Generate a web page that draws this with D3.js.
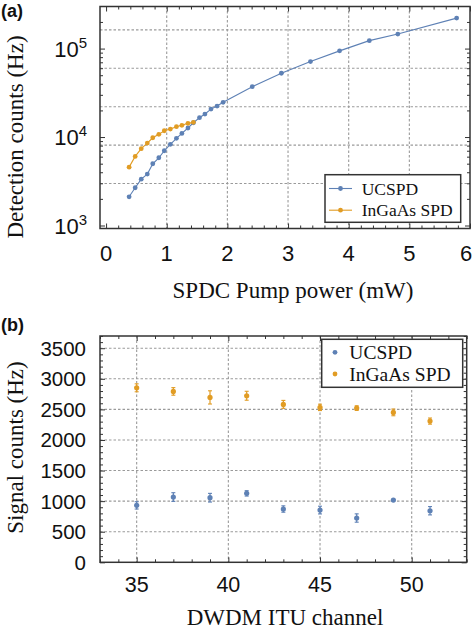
<!DOCTYPE html>
<html>
<head>
<meta charset="utf-8">
<script src="https://cdn.jsdelivr.net/npm/d3@7"></script>
<style>
  body { margin: 0; background: #fff; }
  svg { display: block; }
</style>
</head>
<body>
<svg id="chart" width="474" height="633"></svg>
<script>
// ---------- Data: panel (a) ----------
const powerUC = [0.38,0.48,0.58,0.68,0.77,0.87,0.96,1.06,1.16,1.25,1.35,1.44,1.54,1.63,1.73,1.83,1.93,2.41,2.89,3.37,3.85,4.34,4.81,5.78];
const countsUC = [2110,2670,3340,3810,4990,5830,7000,8270,9660,11000,12650,14500,16550,18200,20700,22400,24700,37100,52600,71300,94200,123000,146000,221000];
const powerIG = [0.38,0.48,0.58,0.68,0.77,0.87,0.96,1.06,1.16,1.25,1.35,1.44];
const countsIG = [4570,6040,7380,8550,9820,10730,11780,12320,13090,13580,14300,14660];
const xTicksA = [0,1,2,3,4,5,6];
const yTicksA = [1000,10000,100000];
const yTickExpA = ["3","4","5"];

// ---------- Data: panel (b) ----------
const channels = [35,37,39,41,43,45,47,49,51];
const signalUC = [931,1067,1056,1127,871,854,724,1018,843];
const errUC = [60,71,71,44,52,63,68,10,68];
const signalIG = [2853,2794,2696,2723,2582,2533,2521,2451,2309];
const errIG = [65,62,108,73,65,52,38,55,50];
const xTicksB = [35,40,45,50];
const yTicksB = [0,500,1000,1500,2000,2500,3000,3500];

const seriesNames = ["UCSPD","InGaAs SPD"];
const colors = ["#5e81b5","#e19c24"];

const svg = d3.select("#chart");
svg.append("rect").attr("width",474).attr("height",633).attr("fill","#fff");

const sansF = "'Liberation Sans', Arial, sans-serif";
const serifF = "'Liberation Serif', 'Times New Roman', serif";
const gridColor = "#9a9a9a";
const frameColor = "#333";

// ================= Panel (a) =================
const xA = d3.scaleLinear().domain([-0.1, 6.0]).range([100, 470]);
const yA = d3.scaleLog().domain([925, 2.99e5]).range([228.5, 6.5]);
const gA = svg.append("g");

// gridlines (Mathematica-style positions: e^8 .. e^12)
const gridYA = [8,9,10,11,12].map(k => Math.exp(k));
gA.selectAll(".gy").data(gridYA).enter().append("line")
  .attr("x1",100).attr("x2",470).attr("y1",d=>yA(d)).attr("y2",d=>yA(d))
  .attr("stroke",gridColor).attr("stroke-width",1.1).attr("stroke-dasharray","2.5,2");
gA.selectAll(".gx").data([1,2,3,4,5]).enter().append("line")
  .attr("y1",6.5).attr("y2",228.5).attr("x1",d=>xA(d)).attr("x2",d=>xA(d))
  .attr("stroke",gridColor).attr("stroke-width",1.1).attr("stroke-dasharray","2.5,2");

// ticks via axes (inward)
const minorXA = d3.range(0, 6.01, 0.2).filter(v => Math.abs(v - Math.round(v)) > 1e-6);
function addAxis(g, axis) { const a = g.append("g").call(axis); a.select(".domain").remove(); a.selectAll("text").remove(); a.selectAll("line").attr("stroke",frameColor).attr("stroke-width",1); return a; }
addAxis(gA.append("g").attr("transform","translate(0,228.5)"), d3.axisBottom(xA).tickValues(xTicksA).tickSize(-5));
addAxis(gA.append("g").attr("transform","translate(0,228.5)"), d3.axisBottom(xA).tickValues(minorXA).tickSize(-3));
addAxis(gA.append("g").attr("transform","translate(0,6.5)"), d3.axisTop(xA).tickValues(xTicksA).tickSize(-5));
addAxis(gA.append("g").attr("transform","translate(0,6.5)"), d3.axisTop(xA).tickValues(minorXA).tickSize(-3));
const minorYA = [];
[100,1000,10000,100000].forEach(b => { for (let m=2;m<=9;m++){ const v=b*m; if (v>925 && v<2.99e5) minorYA.push(v);} });
addAxis(gA.append("g").attr("transform","translate(100,0)"), d3.axisLeft(yA).tickValues(yTicksA).tickSize(-5));
addAxis(gA.append("g").attr("transform","translate(100,0)"), d3.axisLeft(yA).tickValues(minorYA).tickSize(-3));
addAxis(gA.append("g").attr("transform","translate(470,0)"), d3.axisRight(yA).tickValues(yTicksA).tickSize(-5));
addAxis(gA.append("g").attr("transform","translate(470,0)"), d3.axisRight(yA).tickValues(minorYA).tickSize(-3));

// frame
gA.append("rect").attr("x",100).attr("y",6.5).attr("width",370).attr("height",222)
  .attr("fill","none").attr("stroke",frameColor).attr("stroke-width",1.5);

// lines and points
const lineA = d3.line().x(d=>xA(d[0])).y(d=>yA(d[1]));
const dataUC = powerUC.map((p,i)=>[p,countsUC[i]]);
const dataIG = powerIG.map((p,i)=>[p,countsIG[i]]);
[[dataUC,colors[0]],[dataIG,colors[1]]].forEach(([data,c])=>{
  gA.append("path").datum(data).attr("d",lineA).attr("fill","none").attr("stroke",c).attr("stroke-width",1.1);
  gA.selectAll(null).data(data).enter().append("circle")
    .attr("cx",d=>xA(d[0])).attr("cy",d=>yA(d[1])).attr("r",2.4).attr("fill",c);
});

// tick labels (last label nudged inside the canvas edge)
gA.selectAll(".xl").data(xTicksA).enter().append("text")
  .attr("x",d=>Math.min(xA(d), 466)).attr("y",260.5).attr("text-anchor","middle")
  .attr("font-family",sansF).attr("font-size",22).attr("fill","#111").text(d=>d);
yTicksA.forEach((v,i)=>{
  const t = gA.append("text").attr("x",87).attr("y",yA(v)+8).attr("text-anchor","end")
    .attr("font-family",sansF).attr("font-size",22).attr("fill","#111");
  t.append("tspan").text("10");
  t.append("tspan").attr("dy",-9).attr("font-size",15).text(yTickExpA[i]);
});

// axis titles
svg.append("text").attr("x",293).attr("y",298).attr("text-anchor","middle")
  .attr("font-family",serifF).attr("font-size",23).attr("fill","#111").text("SPDC Pump power (mW)");
svg.append("text").attr("transform","translate(23,137) rotate(-90)").attr("text-anchor","middle")
  .attr("font-family",serifF).attr("font-size",23).attr("fill","#111").text("Detection counts (Hz)");
svg.append("text").attr("x",1).attr("y",17).attr("font-family",sansF).attr("font-weight","bold")
  .attr("font-size",18).attr("fill","#111").text("(a)");

// legend (a)
const legA = gA.append("g");
legA.append("rect").attr("x",325).attr("y",174.7).attr("width",135.7).attr("height",47.6)
  .attr("fill","#fff").attr("stroke",frameColor).attr("stroke-width",1.5);
seriesNames.forEach((n,i)=>{
  const cy = 188.5 + i*21.7;
  legA.append("line").attr("x1",329).attr("x2",352).attr("y1",cy).attr("y2",cy).attr("stroke",colors[i]).attr("stroke-width",1.1);
  legA.append("circle").attr("cx",340.5).attr("cy",cy).attr("r",2.4).attr("fill",colors[i]);
  legA.append("text").attr("x",361.7).attr("y",cy+6).attr("font-family",serifF).attr("font-size",17.5).attr("fill","#111").text(n);
});

// ================= Panel (b) =================
const xB = d3.scaleLinear().domain([33,53]).range([100,466.7]);
const yB = d3.scaleLinear().domain([0,3700]).range([562.3,336]);
const gB = svg.append("g");

gB.selectAll(".gy").data(yTicksB.filter(v=>v>0)).enter().append("line")
  .attr("x1",100).attr("x2",466.7).attr("y1",d=>yB(d)).attr("y2",d=>yB(d))
  .attr("stroke",gridColor).attr("stroke-width",1.1).attr("stroke-dasharray","2.5,2");
gB.selectAll(".gx").data(xTicksB).enter().append("line")
  .attr("y1",336).attr("y2",562.3).attr("x1",d=>xB(d)).attr("x2",d=>xB(d))
  .attr("stroke",gridColor).attr("stroke-width",1.1).attr("stroke-dasharray","2.5,2");

const minorXB = d3.range(33,54,1).filter(v=>v%5!==0);
const minorYB = d3.range(0,3701,100).filter(v=>v%500!==0);
addAxis(gB.append("g").attr("transform","translate(0,562.3)"), d3.axisBottom(xB).tickValues(xTicksB).tickSize(-5));
addAxis(gB.append("g").attr("transform","translate(0,562.3)"), d3.axisBottom(xB).tickValues(minorXB).tickSize(-3));
addAxis(gB.append("g").attr("transform","translate(0,336)"), d3.axisTop(xB).tickValues(xTicksB).tickSize(-5));
addAxis(gB.append("g").attr("transform","translate(0,336)"), d3.axisTop(xB).tickValues(minorXB).tickSize(-3));
addAxis(gB.append("g").attr("transform","translate(100,0)"), d3.axisLeft(yB).tickValues(yTicksB).tickSize(-5));
addAxis(gB.append("g").attr("transform","translate(100,0)"), d3.axisLeft(yB).tickValues(minorYB).tickSize(-3));
addAxis(gB.append("g").attr("transform","translate(466.7,0)"), d3.axisRight(yB).tickValues(yTicksB).tickSize(-5));
addAxis(gB.append("g").attr("transform","translate(466.7,0)"), d3.axisRight(yB).tickValues(minorYB).tickSize(-3));

gB.append("rect").attr("x",100).attr("y",336).attr("width",366.7).attr("height",226.3)
  .attr("fill","none").attr("stroke",frameColor).attr("stroke-width",1.5);

// error bars + points
[[signalUC,errUC,colors[0]],[signalIG,errIG,colors[1]]].forEach(([vals,errs,c])=>{
  const d = channels.map((ch,i)=>({x:ch,y:vals[i],e:errs[i]}));
  const g = gB.append("g");
  g.selectAll(null).data(d).enter().append("line")
    .attr("x1",p=>xB(p.x)).attr("x2",p=>xB(p.x)).attr("y1",p=>yB(p.y-p.e)).attr("y2",p=>yB(p.y+p.e))
    .attr("stroke",c).attr("stroke-width",1.2);
  ["-","+"].forEach(s=>{
    g.selectAll(null).data(d).enter().append("line")
      .attr("x1",p=>xB(p.x)-2).attr("x2",p=>xB(p.x)+2)
      .attr("y1",p=>yB(s==="-"?p.y-p.e:p.y+p.e)).attr("y2",p=>yB(s==="-"?p.y-p.e:p.y+p.e))
      .attr("stroke",c).attr("stroke-width",1.1);
  });
  g.selectAll(null).data(d).enter().append("circle")
    .attr("cx",p=>xB(p.x)).attr("cy",p=>yB(p.y)).attr("r",2.6).attr("fill",c);
});

gB.selectAll(".xl").data(xTicksB).enter().append("text")
  .attr("x",d=>xB(d)).attr("y",591.7).attr("text-anchor","middle")
  .attr("font-family",sansF).attr("font-size",21.5).attr("fill","#111").text(d=>d);
gB.selectAll(".yl").data(yTicksB).enter().append("text")
  .attr("x",86).attr("y",d=>yB(d)+7.5).attr("text-anchor","end")
  .attr("font-family",sansF).attr("font-size",20.5).attr("fill","#111").text(d=>d);

svg.append("text").attr("x",285).attr("y",625).attr("text-anchor","middle")
  .attr("font-family",serifF).attr("font-size",23).attr("fill","#111").text("DWDM ITU channel");
svg.append("text").attr("transform","translate(23,447.5) rotate(-90)").attr("text-anchor","middle")
  .attr("font-family",serifF).attr("font-size",23).attr("fill","#111").text("Signal counts (Hz)");
svg.append("text").attr("x",1).attr("y",331).attr("font-family",sansF).attr("font-weight","bold")
  .attr("font-size",18).attr("fill","#111").text("(b)");

const legB = gB.append("g");
legB.append("rect").attr("x",321.7).attr("y",339.3).attr("width",141).attr("height",48)
  .attr("fill","#fff").attr("stroke",frameColor).attr("stroke-width",1.5);
seriesNames.forEach((n,i)=>{
  const cy = 352.3 + i*21.7;
  legB.append("circle").attr("cx",335).attr("cy",cy).attr("r",2.4).attr("fill",colors[i]);
  legB.append("text").attr("x",349.3).attr("y",cy+6.5).attr("font-family",serifF).attr("font-size",19.5).attr("fill","#111").text(n);
});
</script>
</body>
</html>
